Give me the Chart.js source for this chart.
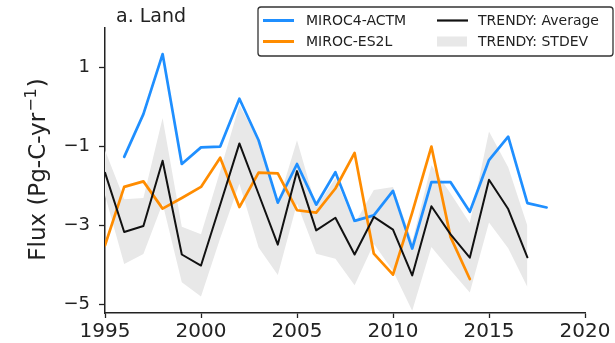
<!DOCTYPE html>
<html>
<head>
<meta charset="utf-8">
<script src="https://cdn.jsdelivr.net/npm/chart.js@4.4.1/dist/chart.umd.min.js"></script>
<style>
  html, body { margin: 0; padding: 0; background: #ffffff; }
  #wrap { width: 615px; height: 343px; position: relative; }
</style>
</head>
<body>
<div id="wrap"><canvas id="chart" width="615" height="343"></canvas></div>
<script>
// Annual land carbon flux, Pg-C per year
const years        = [1995, 1996, 1997, 1998, 1999, 2000, 2001, 2002, 2003, 2004, 2005, 2006,
                      2007, 2008, 2009, 2010, 2011, 2012, 2013, 2014, 2015, 2016, 2017, 2018];
const miroc4Years  = years.slice(1);            // 1996-2018
const miroc4Actm   = [-1.26, -0.18, 1.34, -1.44, -1.02, -1.00, 0.21, -0.84, -2.42, -1.44, -2.47,
                      -1.65, -2.88, -2.74, -2.12, -3.58, -1.90, -1.90, -2.65, -1.34, -0.75, -2.43, -2.54];
const es2lYears    = years.slice(0, 20);        // 1995-2014
const mirocEs2l    = [-3.50, -2.02, -1.88, -2.57, -2.30, -2.02, -1.28, -2.53, -1.66, -1.68,
                      -2.61, -2.67, -2.06, -1.16, -3.71, -4.24, -2.67, -1.00, -3.29, -4.35];
const trendyYears  = years.slice(0, 23);        // 1995-2017
const trendyAvg    = [-1.66, -3.16, -3.01, -1.36, -3.73, -4.01, -2.47, -0.92, -2.20, -3.48, -1.62, -3.12,
                      -2.80, -3.73, -2.78, -3.10, -4.26, -2.51, -3.22, -3.81, -1.84, -2.58, -3.80];
const trendyUpper  = [-1.09, -2.33, -2.30, -0.28, -3.03, -3.22, -1.62, 0.05, -0.85, -2.45, -0.84, -2.53,
                      -1.80, -2.95, -2.10, -2.02, -3.40, -1.47, -2.19, -2.93, -0.62, -1.52, -3.00];
const trendyLower  = [-2.23, -3.97, -3.72, -2.44, -4.43, -4.79, -3.32, -1.94, -3.55, -4.25, -2.44, -3.71,
                      -3.84, -4.51, -3.46, -4.15, -5.15, -3.54, -4.13, -4.69, -2.92, -3.57, -4.55];
const xTicks = [1995, 2000, 2005, 2010, 2015, 2020];
const yTicks = [-5, -3, -1, 1];
const seriesNames = ['MIROC4-ACTM', 'MIROC-ES2L', 'TRENDY: Average', 'TRENDY: STDEV'];
const panelTitle = 'a. Land';
const yTitleMain = 'Flux (Pg-C-yr';
const yTitleSup = '\u22121';
const yTitleEnd = ')';

const BLUE = '#1f8fff', ORANGE = '#ff8c00', BLACK = '#111111', BAND = '#e8e8e8';
const FONT = "'DejaVu Sans', sans-serif";

const pts = (xs, ys) => xs.map((x, i) => ({ x: x, y: ys[i] }));
const minus = v => String(v).replace('-', '\u2212');

// Panel label, rotated axis title with superscript unit, and the 2x2 legend box
const decorations = {
  id: 'decorations',
  afterDraw(chart) {
    const ctx = chart.ctx;
    const area = chart.chartArea;
    ctx.save();
    ctx.fillStyle = '#222';
    ctx.font = '19px ' + FONT;
    ctx.textBaseline = 'middle';
    ctx.textAlign = 'left';
    ctx.fillText(panelTitle, 116, 17);

    // y axis title, rotated, centred on the plot area
    ctx.save();
    ctx.translate(37, (area.top + area.bottom) / 2);
    ctx.rotate(-Math.PI / 2);
    const mainFont = '23px ' + FONT, supFont = '16px ' + FONT;
    ctx.font = mainFont;
    const w1 = ctx.measureText(yTitleMain).width;
    const w3 = ctx.measureText(yTitleEnd).width;
    ctx.font = supFont;
    const w2 = ctx.measureText(yTitleSup).width;
    let x0 = -(w1 + w2 + w3) / 2;
    ctx.textBaseline = 'alphabetic';
    ctx.font = mainFont;
    ctx.fillText(yTitleMain, x0, 8);
    ctx.font = supFont;
    ctx.fillText(yTitleSup, x0 + w1 + 1, -1.5);
    ctx.font = mainFont;
    ctx.fillText(yTitleEnd, x0 + w1 + w2 + 2, 8);
    ctx.restore();

    // legend frame
    const bx = 258, by = 7, bw = 355, bh = 49, r = 3;
    ctx.beginPath();
    ctx.moveTo(bx + r, by);
    ctx.arcTo(bx + bw, by, bx + bw, by + bh, r);
    ctx.arcTo(bx + bw, by + bh, bx, by + bh, r);
    ctx.arcTo(bx, by + bh, bx, by, r);
    ctx.arcTo(bx, by, bx + bw, by, r);
    ctx.closePath();
    ctx.fillStyle = 'rgba(255,255,255,0.85)';
    ctx.fill();
    ctx.lineWidth = 1.3;
    ctx.strokeStyle = '#333';
    ctx.stroke();

    const rows = [20.5, 41.5];
    const entries = [
      { x: 263, tx: 306, y: rows[0], color: BLUE, w: 3, text: seriesNames[0] },
      { x: 263, tx: 306, y: rows[1], color: ORANGE, w: 3, text: seriesNames[1] },
      { x: 437, tx: 478, y: rows[0], color: BLACK, w: 2.2, text: seriesNames[2] },
      { x: 437, tx: 478, y: rows[1], color: BAND, band: true, text: seriesNames[3] }
    ];
    ctx.font = '14px ' + FONT;
    ctx.textBaseline = 'middle';
    entries.forEach(e => {
      if (e.band) {
        ctx.fillStyle = e.color;
        ctx.fillRect(e.x, e.y - 5, 30, 10);
      } else {
        ctx.beginPath();
        ctx.moveTo(e.x, e.y);
        ctx.lineTo(e.x + 31, e.y);
        ctx.lineWidth = e.w;
        ctx.strokeStyle = e.color;
        ctx.stroke();
      }
      ctx.fillStyle = '#222';
      ctx.fillText(e.text, e.tx, e.y + 1);
    });
    ctx.restore();
  }
};

const line = (label, data, color, width, order) => ({
  label, data, borderColor: color, backgroundColor: color, borderWidth: width,
  pointRadius: 0, tension: 0, fill: false, order,
  borderJoinStyle: 'round', borderCapStyle: 'round'
});

new Chart(document.getElementById('chart'), {
  type: 'line',
  data: {
    datasets: [
      line(seriesNames[0], pts(miroc4Years, miroc4Actm), BLUE, 2.7, 3),
      line(seriesNames[1], pts(es2lYears, mirocEs2l), ORANGE, 2.7, 2),
      line(seriesNames[2], pts(trendyYears, trendyAvg), BLACK, 2.0, 1),
      { label: 'stdev upper', data: pts(trendyYears, trendyUpper), borderWidth: 0,
        pointRadius: 0, borderColor: 'rgba(0,0,0,0)', fill: false, order: 10 },
      { label: seriesNames[3], data: pts(trendyYears, trendyLower), borderWidth: 0,
        pointRadius: 0, borderColor: 'rgba(0,0,0,0)', backgroundColor: BAND, fill: '-1', order: 10 }
    ]
  },
  options: {
    responsive: false,
    animation: false,
    events: [],
    layout: { padding: { left: 0, right: 30, top: 28, bottom: 0 } },
    plugins: { legend: { display: false }, tooltip: { enabled: false }, title: { display: false } },
    scales: {
      x: {
        type: 'linear', min: 1995, max: 2020,
        afterBuildTicks: s => { s.ticks = xTicks.map(v => ({ value: v })); },
        afterFit: s => { s.height = 30; },
        ticks: { color: '#222', font: { family: FONT, size: 20 }, padding: 2, maxRotation: 0,
                 callback: v => String(v) },
        grid: { drawOnChartArea: false, drawTicks: true, tickLength: 5, tickColor: '#222', tickWidth: 1.3 },
        border: { display: true, color: '#222', width: 1.5 }
      },
      y: {
        type: 'linear', min: -5.21, max: 2.0,
        afterBuildTicks: s => { s.ticks = yTicks.map(v => ({ value: v })); },
        afterFit: s => { s.width = 105; },
        ticks: { color: '#222', font: { family: FONT, size: 18 }, padding: 9,
                 callback: v => minus(v) },
        grid: { drawOnChartArea: false, drawTicks: true, tickLength: 6, tickColor: '#222', tickWidth: 1.3 },
        border: { display: true, color: '#222', width: 1.5 },
        title: { display: false }
      }
    }
  },
  plugins: [decorations]
});
</script>
</body>
</html>
